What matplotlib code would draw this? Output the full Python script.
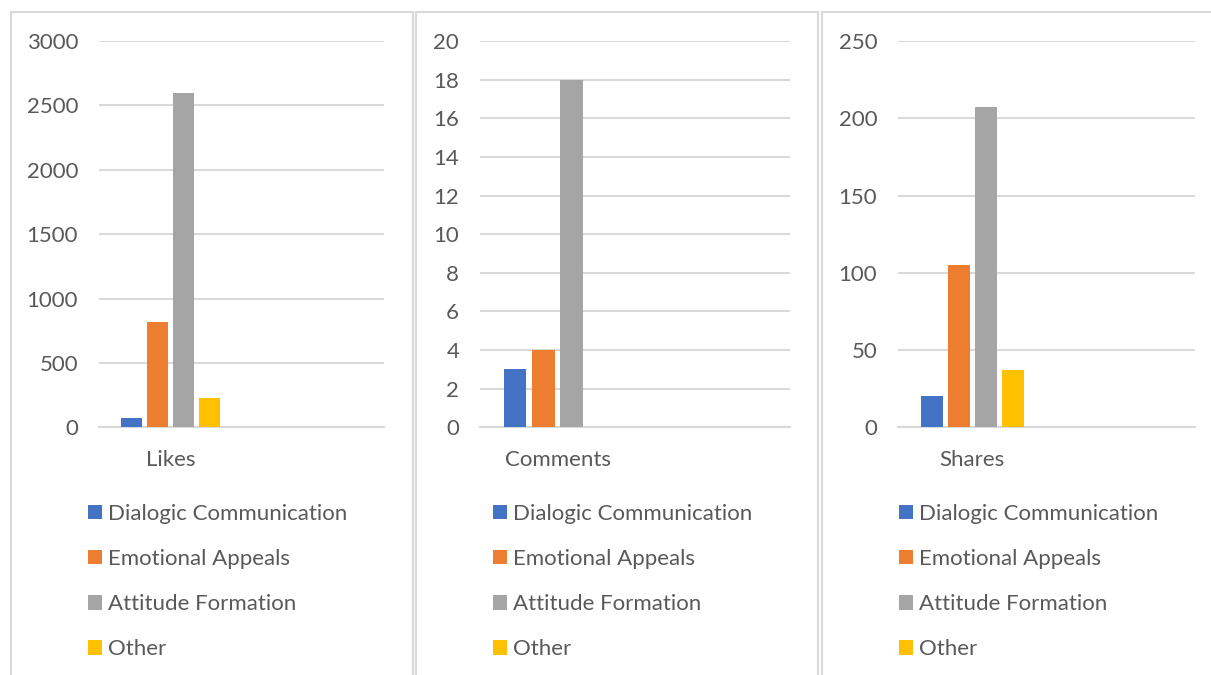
import matplotlib
matplotlib.use("Agg")
import matplotlib.pyplot as plt
from matplotlib.patches import Rectangle
import numpy as np

# ---- data ----
metrics = ["Likes", "Comments", "Shares"]
series = ["Dialogic Communication", "Emotional Appeals", "Attitude Formation", "Other"]
likes = [75, 820, 2600, 230]
comments = [3, 4, 18, 0]
shares = [20, 105, 207, 37]
values = [likes, comments, shares]
y_max = [3000, 20, 250]
y_step = [500, 2, 50]
colors = ["#4472C4", "#ED7D31", "#A5A5A5", "#FFC000"]

W, H = 1211, 675
plt.rcParams['font.family'] = ['Lato', 'DejaVu Sans']
text_color = "#595959"
grid_color = "#D9D9D9"
fs = 16

fig = plt.figure(figsize=(W / 100, H / 100), dpi=100)

# panel frames (px): left, right
panels = [(11, 413), (416, 818), (822, 1224)]
axes_x = [(99, 384), (480, 790), (898, 1195)]
ax_top, ax_bot = 41, 427.3

for i, (pl, pr) in enumerate(panels):
    fig.add_artist(Rectangle((pl / W, -0.05), (pr - pl) / W, 1 - 12 / H + 0.05,
                             transform=fig.transFigure, fill=False,
                             edgecolor=grid_color, lw=1.5, clip_on=False))

for i in range(3):
    x0, x1 = axes_x[i]
    ax = fig.add_axes([x0 / W, 1 - ax_bot / H, (x1 - x0) / W, (ax_bot - ax_top) / H])
    stride = 0.1825
    width = 0.147
    handles = []
    for j, s in enumerate(series):
        b = ax.bar(0 + (j - 1.5) * stride, values[i][j], width=width, color=colors[j],
                   label=s, zorder=3)
        handles.append(b)
    ax.set_xlim(-0.5, 1.5)
    ax.set_ylim(0, y_max[i])
    ax.set_yticks(np.arange(0, y_max[i] + y_step[i] / 2, y_step[i]))
    ax.set_xticks([0])
    ax.set_xticklabels([metrics[i]])
    ax.grid(axis='y', color=grid_color, lw=1.5, zorder=0)
    ax.set_axisbelow(True)
    for sp in ['top', 'right', 'left']:
        ax.spines[sp].set_visible(False)
    ax.spines['bottom'].set_color(grid_color)
    ax.spines['bottom'].set_linewidth(1.5)
    ax.tick_params(length=0, labelsize=fs, colors=text_color, pad=15)
    ax.tick_params(axis='x', pad=16)
    ax.set_facecolor('none')

    lx = (panels[i][0] + 77) / W
    leg = fig.legend(handles=handles, labels=series, loc='upper left',
                     bbox_to_anchor=(lx, 1 - 504 / H), frameon=False,
                     fontsize=fs, handlelength=0.62, handleheight=0.62,
                     handletextpad=0.28, labelspacing=1.13, borderaxespad=0,
                     borderpad=0)
    for t in leg.get_texts():
        t.set_color(text_color)

fig.savefig("out.png", dpi=100, facecolor='white')
